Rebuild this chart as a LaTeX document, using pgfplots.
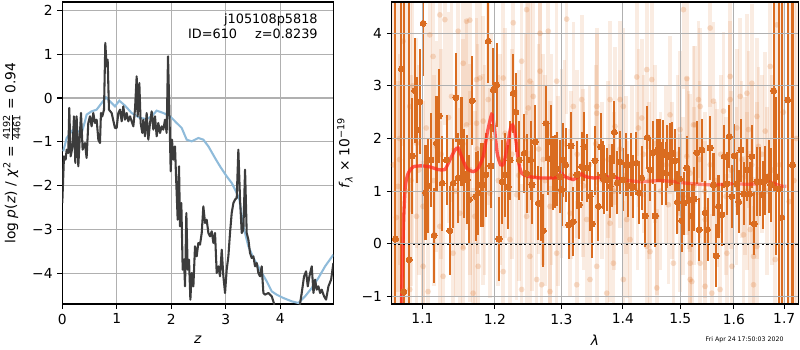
\documentclass[border=0pt]{standalone}
\usepackage{pgfplots}
\pgfplotsset{compat=1.18}
\usepackage{pgfplotstable}
\usepackage{fontspec}
\setmainfont{DejaVu Sans}
\definecolor{gridc}{RGB}{176,176,176}
\definecolor{curvek}{RGB}{60,60,60}
\definecolor{curveb}{RGB}{143,187,218}
\definecolor{dorange}{RGB}{218,108,32}
\definecolor{mred}{RGB}{255,40,30}

\pgfplotstableread{
z y
0.000 -2.395
0.031 -1.331
0.061 -1.407
0.080 -1.179
0.110 -1.255
0.128 -0.228
0.153 -1.331
0.190 -1.103
0.214 -0.418
0.239 -1.483
0.263 -0.418
0.294 -1.559
0.324 -0.798
0.343 -0.342
0.373 -1.179
0.416 -1.027
0.446 -1.369
0.477 -0.570
0.508 -0.418
0.538 -0.646
0.569 -0.342
0.599 -0.570
0.630 -0.494
0.661 -0.951
0.691 -1.027
0.709 -0.342
0.734 -0.418
0.765 -0.266
0.789 1.255
0.813 0.722
0.832 0.875
0.856 -0.266
0.905 -0.342
0.966 -0.684
0.997 -0.684
1.028 -0.342
1.058 -0.266
1.089 -0.532
1.119 -0.190
1.150 -0.494
1.180 -0.342
1.211 -0.532
1.242 -0.418
1.272 -0.532
1.303 -0.646
1.333 -0.266
1.364 0.494
1.382 -0.418
1.413 0.342
1.437 -0.570
1.468 -0.798
1.486 -0.494
1.517 -0.875
1.547 -0.342
1.578 -0.951
1.609 -0.570
1.639 -0.304
1.670 -0.722
1.700 -0.418
1.731 -0.875
1.761 -0.570
1.792 -0.798
1.823 -0.646
1.853 -0.722
1.884 -0.494
1.914 -0.798
1.939 0.951
1.963 -0.266
1.988 -1.673
2.012 -0.951
2.037 -1.407
2.067 -1.103
2.086 -1.787
2.116 -2.776
2.141 -1.559
2.159 -2.928
2.183 -2.395
2.208 -3.916
2.232 -3.688
2.251 -4.297
2.275 -2.624
2.300 -3.916
2.324 -3.688
2.349 -4.601
2.373 -3.992
2.404 -4.297
2.434 -3.384
2.465 -3.612
2.495 -3.308
2.526 -3.346
2.557 -3.080
2.587 -2.471
2.618 -2.852
2.648 -2.776
2.679 -3.080
2.710 -3.156
2.740 -3.042
2.771 -3.308
2.801 -3.080
2.832 -3.992
2.862 -3.840
2.893 -4.068
2.924 -3.460
2.954 -4.068
2.985 -4.449
3.015 -3.916
3.046 -3.612
3.076 -3.080
3.107 -2.624
3.138 -2.395
3.168 -2.319
3.199 -2.281
3.229 -1.179
3.260 -2.319
3.291 -3.080
3.321 -3.004
3.352 -1.635
3.382 -3.080
3.413 -3.232
3.443 -3.536
3.474 -3.650
3.505 -3.612
3.535 -3.840
3.566 -3.764
3.596 -3.992
3.627 -4.068
3.657 -3.840
3.688 -4.449
3.719 -4.487
3.780 -4.449
3.841 -4.525
3.884 -4.692
3.920 -5.300
4.000 -5.600
4.100 -5.400
4.200 -5.700
4.300 -5.300
4.361 -4.692
4.391 -4.449
4.434 -4.068
4.471 -3.954
4.502 -4.297
4.532 -4.068
4.575 -3.840
4.606 -4.449
4.636 -4.144
4.667 -4.373
4.697 -4.297
4.728 -4.449
4.758 -4.373
4.801 -4.525
4.838 -4.601
4.881 -4.297
4.930 -4.144
4.972 -3.764
}\pzdata

\pgfplotstableread{
z y
0.018 -1.217
0.080 -0.913
0.171 -0.760
0.232 -0.684
0.294 -0.760
0.355 -0.798
0.416 -0.532
0.446 -0.380
0.538 -0.304
0.630 -0.266
0.722 -0.114
0.801 0.015
0.905 -0.114
0.966 -0.190
1.046 -0.061
1.150 -0.175
1.272 -0.342
1.425 -0.456
1.547 -0.479
1.639 -0.418
1.731 -0.289
1.853 -0.342
1.976 -0.418
2.098 -0.570
2.190 -0.684
2.281 -0.951
2.373 -0.989
2.495 -0.913
2.587 -0.951
2.679 -1.103
2.801 -1.369
2.893 -1.559
3.015 -1.787
3.107 -1.939
3.199 -2.167
3.248 -2.319
3.321 -2.928
3.413 -3.384
3.505 -3.650
3.627 -3.916
3.749 -4.183
3.841 -4.411
3.933 -4.487
4.055 -4.563
4.208 -4.639
4.330 -4.677
4.453 -4.525
4.575 -4.335
4.697 -4.106
4.820 -3.840
4.972 -3.574
}\pzblue

\pgfplotstableread{
l f e
1.0648 0.09 6
1.0725 3.32 6
1.0755 -0.91 6
1.0825 -0.30 6
1.0864 1.67 1.1
1.0899 2.91 1.0
1.0930 2.16 1.0
1.0965 2.70 1.0
1.1009 4.19 1.0
1.1040 0.97 0.9
1.1075 1.10 0.9
1.1111 1.59 0.9
1.1156 0.16 0.9
1.1187 1.91 0.9
1.1223 2.43 0.9
1.1264 1.15 0.9
1.1323 1.59 0.85
1.1368 0.25 0.85
1.1414 1.15 0.85
1.1451 2.78 0.85
1.1483 1.25 0.85
1.1529 1.94 0.85
1.1566 1.33 0.85
1.1608 1.22 0.85
1.1636 0.84 0.85
1.1678 2.72 0.85
1.1730 0.90 0.85
1.1763 0.96 0.8
1.1796 1.12 0.8
1.1834 1.12 0.8
1.1872 1.31 0.8
1.1906 3.85 0.8
1.1944 1.48 0.8
1.1978 2.92 0.8
1.2026 3.02 0.8
1.2060 0.09 0.8
1.2108 1.18 0.8
1.2147 1.31 0.8
1.2196 1.08 0.8
1.2221 1.59 0.75
1.2270 2.86 0.75
1.2309 2.50 0.75
1.2359 1.59 0.75
1.2433 1.72 0.75
1.2468 1.34 0.75
1.2529 1.59 0.75
1.2549 1.12 0.75
1.2599 1.94 0.7
1.2645 0.77 0.7
1.2680 0.76 0.7
1.2721 0.25 0.7
1.2762 2.29 0.7
1.2798 1.62 0.7
1.2834 1.93 0.7
1.2875 1.34 0.7
1.2901 1.37 0.7
1.2938 1.42 0.7
1.2979 1.28 0.7
1.3005 1.03 0.7
1.3032 1.59 0.7
1.3068 1.50 0.7
1.3116 0.36 0.65
1.3152 1.86 0.65
1.3189 0.42 0.65
1.3243 1.31 0.65
1.3285 0.74 0.65
1.3323 1.47 0.65
1.3360 1.85 0.65
1.3403 1.44 0.65
1.3457 0.90 0.65
1.3495 0.38 0.65
1.3538 1.58 0.65
1.3593 0.71 0.65
1.3631 1.84 0.65
1.3664 1.31 0.65
1.3691 1.22 0.65
1.3730 1.22 0.6
1.3785 1.09 0.6
1.3824 1.29 0.6
1.3857 2.12 0.6
1.3908 1.16 0.6
1.3952 1.55 0.6
1.4008 1.22 0.6
1.4053 1.50 0.6
1.4093 1.10 0.6
1.4133 1.50 0.6
1.4178 1.08 0.6
1.4224 1.53 0.6
1.4281 0.97 0.6
1.4321 1.25 0.6
1.4379 0.53 0.6
1.4419 2.02 0.6
1.4466 1.41 0.6
1.4512 1.73 0.6
1.4553 0.53 0.6
1.4594 1.78 0.6
1.4630 1.78 0.6
1.4671 1.34 0.6
1.4700 1.75 0.6
1.4742 1.34 0.6
1.4771 1.66 0.6
1.4819 1.69 0.6
1.4860 1.72 0.6
1.4908 1.58 0.6
1.4950 0.79 0.6
1.4986 1.23 0.6
1.5029 0.44 0.6
1.5071 0.77 0.6
1.5119 1.44 0.6
1.5162 0.84 0.6
1.5211 0.53 0.6
1.5253 0.85 0.6
1.5303 1.73 0.6
1.5346 0.27 0.6
1.5395 1.78 0.6
1.5457 0.59 0.6
1.5501 0.27 0.6
1.5550 1.82 0.6
1.5613 1.12 0.6
1.5663 -0.23 0.6
1.5707 0.71 0.6
1.5771 0.55 0.6
1.5815 1.66 0.6
1.5866 1.14 0.6
1.5911 2.04 0.6
1.5962 0.90 0.6
1.6007 1.67 0.6
1.6058 1.14 0.6
1.6090 0.80 0.6
1.6136 1.78 0.6
1.6188 0.95 0.6
1.6253 1.41 0.6
1.6305 0.95 0.6
1.6351 1.66 0.6
1.6397 0.38 0.6
1.6450 1.18 0.65
1.6516 1.18 0.65
1.6569 0.93 0.65
1.6616 1.20 0.65
1.6683 1.28 0.7
1.6730 1.12 0.7
1.6784 2.91 1.9
1.6838 1.28 1.5
1.6885 1.04 6
1.6950 0.50 6
1.7069 2.73 6
1.7170 1.50 6
}\dark

\pgfplotstableread{
l f e
1.0620 1.50 6
1.0660 0.50 6
1.0700 2.00 6
1.0780 1.00 6
1.0870 3.00 3
1.6900 1.50 6
1.6980 2.50 6
1.7100 0.80 6
1.7200 1.20 6
1.7250 2.00 6
1.1232 4.35 2.0
1.1300 4.26 2.0
1.1599 4.23 2.0
1.1645 4.25 2.0
1.0746 3.85 2.0
1.1097 3.97 2.0
1.1482 4.04 2.0
1.1141 3.56 2.0
1.1552 3.43 2.0
1.1739 3.12 2.0
1.1786 3.15 2.0
1.0833 2.61 2.0
1.1391 2.80 2.0
1.1905 2.74 2.0
1.1599 2.26 2.0
1.1739 2.29 2.0
1.1833 2.33 2.0
1.0921 1.91 2.0
1.1187 1.85 2.0
1.1645 1.41 2.0
1.0921 0.52 2.0
1.1008 0.71 2.0
1.1232 0.33 2.0
1.1506 0.58 2.0
1.1715 0.52 2.0
1.1413 -0.18 2.0
1.1552 -0.08 2.0
1.1762 -0.43 2.0
1.1074 -0.91 2.0
1.1276 -0.62 2.0
1.1691 -0.94 2.0
1.0833 -0.87 2.0
1.1008 -0.43 2.0
1.0681 1.09 2.0
1.1833 1.22 2.0
1.1929 0.96 2.0
1.2468 4.45 2.0
1.2269 4.20 2.0
1.3084 4.27 1.8
1.2670 4.00 2.0
1.2797 4.04 2.0
1.2394 3.47 2.0
1.2670 3.28 2.0
1.2122 3.15 2.0
1.2927 3.09 2.0
1.2518 3.09 2.0
1.3323 2.74 1.6
1.2568 2.80 2.0
1.3189 2.61 1.6
1.2493 2.58 2.0
1.2074 1.60 2.0
1.2720 1.60 2.0
1.3005 1.53 1.8
1.3348 1.34 1.6
1.2319 0.93 2.0
1.2823 0.71 2.0
1.2468 0.52 2.0
1.3136 0.58 1.6
1.3403 0.46 1.6
1.2220 0.08 2.0
1.2518 -0.24 2.0
1.2927 -0.18 2.0
1.2122 -0.53 2.0
1.2620 -0.68 2.0
1.2696 -0.78 2.0
1.3243 -0.78 1.6
1.2394 -0.87 2.0
1.2823 -0.91 2.0
1.5058 4.45 1.5
1.4408 3.31 1.5
1.4495 3.12 1.5
1.5119 3.14 1.5
1.4235 3.17 1.5
1.3566 2.61 1.5
1.4007 2.61 1.5
1.3785 2.74 1.5
1.3952 2.74 1.5
1.4818 2.45 1.5
1.4321 2.39 1.5
1.3868 2.23 1.5
1.3566 2.48 1.5
1.5240 2.26 1.5
1.4998 2.17 1.5
1.4263 2.20 1.5
1.5119 1.66 1.5
1.5180 1.34 1.5
1.3785 0.39 1.5
1.4065 0.46 1.5
1.4583 0.52 1.5
1.4788 0.74 1.5
1.4998 0.58 1.5
1.4121 0.08 1.5
1.4408 -0.05 1.5
1.4465 -0.15 1.5
1.3566 -0.43 1.5
1.3840 -0.37 1.5
1.4877 -0.37 1.5
1.5180 -0.37 1.5
1.3457 -0.68 1.5
1.4007 -0.68 1.5
1.4583 -0.84 1.5
1.3730 -0.94 1.5
1.5211 -0.72 1.5
1.5550 4.10 1.5
1.6850 4.16 2.0
1.5929 3.18 1.5
1.6351 3.05 1.5
1.6253 2.86 1.5
1.6122 2.80 1.5
1.5332 2.74 1.5
1.5612 2.71 1.5
1.5364 2.61 1.5
1.6715 3.37 1.8
1.5929 2.74 1.5
1.6450 2.42 1.5
1.5801 2.52 1.5
1.5271 2.26 1.5
1.6058 2.20 1.5
1.6284 2.17 1.5
1.6615 2.14 1.5
1.6482 1.85 1.5
1.6220 1.28 1.5
1.5676 1.06 1.5
1.5456 0.46 1.5
1.6318 0.27 1.5
1.6187 0.17 1.5
1.5866 -0.18 1.5
1.6450 -0.05 1.5
1.6383 -0.24 1.5
1.5364 -0.37 1.5
1.5962 -0.43 1.5
1.6816 -0.30 2.0
1.5456 -0.81 1.5
1.6383 -0.78 1.5
1.5180 -0.68 1.5
1.5738 -0.87 1.5
1.5582 -0.94 1.5
1.070 1.6 2.0
1.085 1.2 2.0
1.095 1.4 2.0
1.105 2.2 2.0
1.115 1.2 2.0
1.125 1.7 2.0
1.135 2.4 2.0
1.145 1.0 2.0
1.155 1.9 2.0
1.165 0.9 2.0
1.175 1.8 2.0
1.185 1.4 2.0
1.195 2.0 2.0
1.205 1.2 2.0
1.215 2.1 2.0
1.225 1.7 2.0
1.235 1.3 2.0
1.245 2.0 2.0
1.255 1.1 2.0
1.265 1.8 2.0
1.275 1.2 2.0
1.285 1.6 2.0
1.295 1.0 1.8
1.305 1.9 1.6
1.315 1.3 1.6
1.325 1.7 1.6
1.335 1.1 1.6
1.345 1.5 1.5
1.355 1.9 1.5
1.365 1.2 1.5
1.375 1.6 1.5
1.385 1.0 1.5
1.395 1.8 1.5
1.405 1.3 1.5
1.415 1.5 1.5
1.425 1.0 1.5
1.435 1.7 1.5
1.445 1.2 1.5
1.455 1.9 1.5
1.465 1.0 1.5
1.475 1.5 1.5
1.485 1.2 1.5
1.495 1.7 1.5
1.505 0.9 1.5
1.515 1.4 1.5
1.525 1.1 1.5
1.535 1.6 1.5
1.545 1.0 1.5
1.555 1.5 1.5
1.565 1.2 1.5
1.575 1.7 1.5
1.585 0.9 1.5
1.595 1.4 1.5
1.605 1.1 1.5
1.615 1.6 1.5
1.625 1.0 1.5
1.635 1.5 1.5
1.645 1.2 1.5
1.655 1.7 1.5
1.665 1.0 1.6
1.675 1.4 1.8
}\faint

\pgfplotstableread{
l f
1.0725 -1.15
1.0737 -0.43
1.0755 0.52
1.0775 1.09
1.0810 1.33
1.0877 1.46
1.0987 1.48
1.1098 1.46
1.1210 1.41
1.1300 1.41
1.1368 1.59
1.1437 1.78
1.1483 1.82
1.1529 1.66
1.1599 1.44
1.1692 1.37
1.1763 1.44
1.1834 1.66
1.1891 2.10
1.1944 2.42
1.1963 2.45
1.1992 2.23
1.2035 1.72
1.2084 1.50
1.2132 1.53
1.2181 1.85
1.2230 2.20
1.2260 2.26
1.2295 2.10
1.2344 1.59
1.2394 1.34
1.2494 1.28
1.2670 1.25
1.2875 1.25
1.2953 1.28
1.2995 1.35
1.3048 1.28
1.3189 1.22
1.3269 1.28
1.3323 1.33
1.3376 1.28
1.3511 1.25
1.3840 1.27
1.3952 1.22
}\modelA

\pgfplotstableread{
l f
1.3952 1.22
1.4293 1.18
1.4641 1.20
1.4878 1.18
1.5119 1.15
1.5363 1.13
1.5613 1.12
1.5994 1.14
1.6253 1.13
1.6450 1.14
1.6650 1.18
1.6784 1.15
1.6919 1.10
1.7042 1.09
}\modelB

\pgfplotsset{
  mystyle/.style={
    scale only axis,
    height=218.26pt,
    tick align=outside,
    tick pos=left,
    major tick length=3.5pt,
    tick style={black, line width=0.8pt},
    axis line style={line width=0.8pt},
    grid=major,
    grid style={gridc, line width=0.8pt},
    ticklabel style={font=\fontsize{10}{12}\selectfont},
    label style={font=\fontsize{10}{12}\selectfont},
  }
}

\begin{document}
\begin{tikzpicture}
\useasboundingbox (0,0) rectangle (578.16pt,-252.95pt);

\begin{axis}[mystyle,
  at={(45.02pt,-1.45pt)}, anchor=north west,
  width=195.85pt,
  xmin=0, xmax=4.97, ymin=-4.70, ymax=2.19,
  xtick={0,1,2,3,4}, xticklabels={0,1,2,3,4},
  ytick={-4,-3,-2,-1,0,1,2}, yticklabels={−4,−3,−2,−1,0,1,2},
  xlabel={\textit{z}},
  xlabel style={at={(axis description cs:0.5,-0.119)}, anchor=center},
  ylabel={log \textit{p}(\textit{z}) / \textit{χ}\textsuperscript{2} = $\frac{\mbox{\fontsize{7}{7}\selectfont 4192}}{\mbox{\fontsize{7}{7}\selectfont 4461}}$ = 0.94},
  ylabel style={at={(axis description cs:-0.187,0.5)}, anchor=center},
]
\addplot[curveb, line width=1.5pt] table[x=z, y=y] {\pzblue};
\addplot[curvek, line width=1.5pt, line join=round] table[x=z, y=y] {\pzdata};
\node[anchor=east, font=\fontsize{9.3}{11}\selectfont, inner sep=0pt] at (axis description cs:0.9435,0.940) {j105108p5818};
\node[anchor=east, font=\fontsize{9.3}{11}\selectfont, inner sep=0pt] at (axis description cs:0.9435,0.893) {ID=610\hspace{13pt}z=0.8239};
\end{axis}

\begin{axis}[mystyle,
  at={(283.08pt,-1.45pt)}, anchor=north west,
  width=293.85pt,
  xmode=log,
  xmin=1.06, xmax=1.729, ymin=-1.146, ymax=4.595,
  xtick={1.1,1.2,1.3,1.4,1.5,1.6,1.7}, xticklabels={1.1,1.2,1.3,1.4,1.5,1.6,1.7},
  minor xtick={},
  ytick={-1,0,1,2,3,4}, yticklabels={−1,0,1,2,3,4},
  axis on top,
  xlabel={\textit{λ}},
  xlabel style={at={(axis description cs:0.5,-0.119)}, anchor=center},
  ylabel={\textit{f}\raisebox{-0.45ex}{\fontsize{7}{7}\selectfont\textit{λ}} × 10\textsuperscript{−19}},
  ylabel style={at={(axis description cs:-0.115,0.5)}, anchor=center},
]
\addplot[color=dorange, only marks, mark=*, mark size=2.1pt,
  mark options={draw opacity=0, fill=dorange, fill opacity=0.22},
  error bars/.cd, y dir=both, y explicit, error mark=none,
  error bar style={line width=2.6pt, dorange, opacity=0.13}]
  table[x=l, y=f, y error=e] {\faint};
\addplot[color=dorange, only marks, mark=*, mark size=2.2pt,
  mark options={draw=dorange, fill=dorange, line width=0pt},
  error bars/.cd, y dir=both, y explicit, error mark=none,
  error bar style={line width=1.5pt, dorange}]
  table[x=l, y=f, y error=e] {\dark};
\addplot[mred, opacity=0.75, line width=2.4pt, smooth, tension=0.4] table[x=l, y=f] {\modelA};
\addplot[mred, opacity=0.5, line width=2.4pt, smooth, tension=0.4] table[x=l, y=f] {\modelB};
\addplot[black, line width=1.5pt, dash pattern=on 1.5pt off 2pt] coordinates {(1.05,0) (1.74,0)};
\end{axis}

\node[font=\fontsize{4.5}{5}\selectfont] at (538.1pt,-245.7pt) {Fri Apr 24 17:50:03 2020};
\end{tikzpicture}
\end{document}
